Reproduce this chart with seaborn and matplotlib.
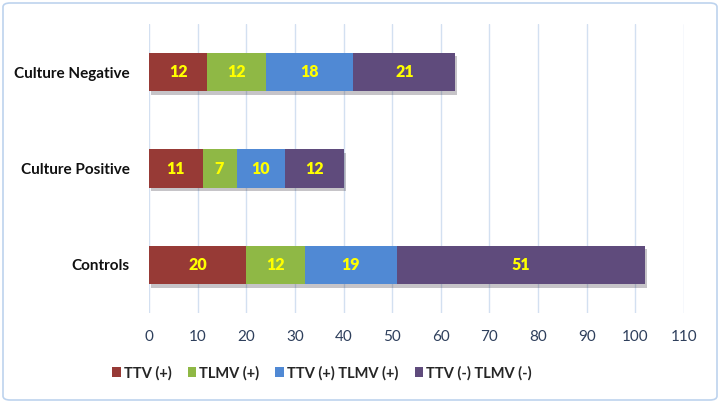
import numpy as np
import pandas as pd
import matplotlib
matplotlib.use("Agg")
import matplotlib.pyplot as plt
import seaborn as sns
from matplotlib.patches import FancyBboxPatch, Patch
import matplotlib.patheffects as pe

categories = ["Culture Negative", "Culture Positive", "Controls"]
series = ["TTV (+)", "TLMV (+)", "TTV (+) TLMV (+)", "TTV (-) TLMV (-)"]
ttv_pos = [12, 11, 20]
tlmv_pos = [12, 7, 12]
both_pos = [18, 10, 19]
both_neg = [21, 12, 51]
x_ticks = list(range(0, 111, 10))

colors = ["#973A36", "#8FB845", "#5089D4", "#5F4B7C"]

sns.set_theme(style="white")
plt.rcParams["font.family"] = ["Lato", "DejaVu Sans"]

df = pd.DataFrame({"category": categories, series[0]: ttv_pos, series[1]: tlmv_pos,
                   series[2]: both_pos, series[3]: both_neg})
cum = df[series].cumsum(axis=1)

fig = plt.figure(figsize=(7.21, 4.03), dpi=100)
ax = fig.add_axes([149 / 721, 1 - 313 / 403, 535 / 721, 289 / 403])

# draw the stacked bars as overlapping cumulative totals, longest first
for i in range(len(series) - 1, -1, -1):
    sns.barplot(data=cum.assign(category=categories), x=series[i], y="category",
                order=categories, color=colors[i], width=0.4, saturation=1,
                ax=ax, orient="h", zorder=3, linewidth=0, edgecolor="none")

# soft drop shadow only under the full-length bars
shadow = [pe.SimplePatchShadow(offset=(1.5, -2.5), alpha=0.25), pe.Normal()]
for bar in ax.patches[:len(categories)]:
    bar.set_path_effects(shadow)

# value labels at segment centres
for i, s in enumerate(series):
    left = cum[s] - df[s]
    for j in range(len(categories)):
        ax.text(left[j] + df[s][j] / 2, j, str(df[s][j]), ha="center", va="center",
                color="#FFFF00", fontsize=11.5, fontweight="heavy", zorder=5)

ax.set_xlim(0, 110)
ax.set_ylim(2.5, -0.5)
ax.set_xticks(x_ticks)
ax.set_xticklabels([str(t) for t in x_ticks], color="#2E3F5C", fontsize=11)
ax.tick_params(axis="x", length=0, pad=12)
ax.tick_params(axis="y", length=0, pad=14)
for lab in ax.get_yticklabels():
    lab.set_fontweight("bold")
    lab.set_fontsize(11)
    lab.set_color("#111111")
ax.set_xlabel("")
ax.set_ylabel("")
ax.grid(axis="x", color="#D3E0F1", linewidth=1, zorder=0)
ax.set_axisbelow(True)
for sp in ax.spines.values():
    sp.set_visible(False)

handles = [Patch(facecolor=c, edgecolor="none") for c in colors]
leg = fig.legend(handles, series, loc="center", bbox_to_anchor=(322 / 721, 1 - 373 / 403),
                 ncol=4, frameon=False, handlelength=0.6, handleheight=0.6,
                 handletextpad=0.2, columnspacing=1.1,
                 prop={"weight": "bold", "size": 10.5})

border = FancyBboxPatch((3 / 721, 3 / 403), 714 / 721, 397 / 403,
                        boxstyle="round,pad=0,rounding_size=0.01",
                        transform=fig.transFigure, facecolor="none",
                        edgecolor="#BDD3EE", linewidth=1.2)
fig.patches.append(border)

fig.savefig("out.png", dpi=100)
